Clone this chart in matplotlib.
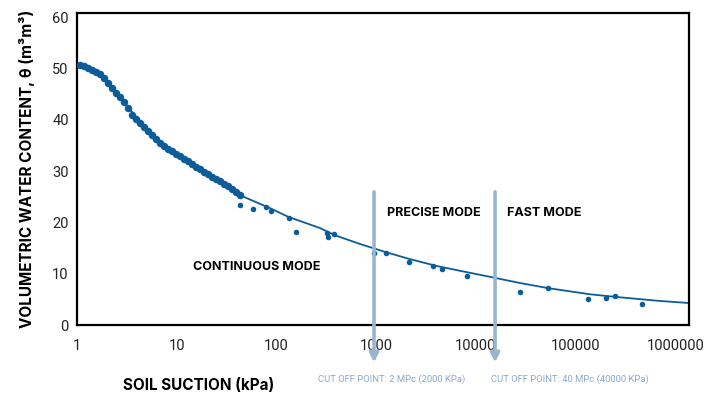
import matplotlib.pyplot as plt

plt.rcParams['font.family'] = ['Roboto', 'DejaVu Sans']

# continuous mode readings (kPa, volumetric water content %)
cont_kpa = [1.07, 1.18, 1.29, 1.41, 1.55, 1.70, 1.87, 2.05, 2.24, 2.46,
            2.70, 2.96, 3.25, 3.56, 3.91, 4.29, 4.70, 5.15, 5.65, 6.20,
            6.80, 7.46, 8.18, 8.97, 9.84, 10.8, 11.8, 13.0, 14.2, 15.6,
            17.1, 18.8, 20.6, 22.6, 24.8, 27.2, 29.8, 32.7, 35.9, 39.3, 43.1]
cont_theta = [50.7, 50.5, 50.1, 49.7, 49.3, 48.9, 48.1, 47.2, 46.2, 45.2,
              44.4, 43.5, 42.3, 40.9, 40.2, 39.4, 38.6, 37.8, 37.0, 36.3,
              35.5, 34.9, 34.3, 33.9, 33.3, 32.9, 32.4, 32.0, 31.4, 30.8,
              30.4, 29.8, 29.4, 28.8, 28.5, 28.1, 27.5, 27.1, 26.5, 25.9, 25.3]

# discrete readings
pts_kpa = [43.1, 58.2, 78.7, 88.3, 134, 157, 322, 329, 378, 953, 1257,
           2138, 3721, 4580, 8170, 27700, 53000, 133400, 202300, 249000, 464500]
pts_theta = [23.4, 22.6, 23.0, 22.2, 20.9, 18.1, 17.9, 17.2, 17.7, 14.0, 14.0,
             12.3, 11.5, 10.9, 9.6, 6.4, 7.2, 5.1, 5.3, 5.7, 4.1]

# fitted curve
fit_kpa = [1.07, 1.70, 2.70, 4.28, 6.80, 10.8, 17.1, 27.2, 43.1, 86, 131, 274,
           387, 689, 1257, 2138, 4080, 8170, 13870, 27700, 53000, 140000,
           249000, 703000, 1375000]
fit_theta = [50.7, 48.7, 44.4, 39.6, 35.7, 32.7, 30.4, 28.1, 25.3, 22.8, 21.1,
             18.9, 17.5, 15.8, 14.2, 12.9, 11.5, 10.3, 9.4, 8.2, 7.2, 6.0,
             5.5, 4.7, 4.3]

xticks = [1, 10, 100, 1000, 10000, 100000, 1000000]
yticks = [0, 10, 20, 30, 40, 50, 60]
cutoff_x = [953, 15590]
cutoff_text = ["CUT OFF POINT: 2 MPc (2000 KPa)", "CUT OFF POINT: 40 MPc (40000 KPa)"]

blue = '#0c5c99'
light = '#9ab6cf'
bold_font = ['Inter', 'DejaVu Sans']

fig = plt.figure(figsize=(7.23, 3.95), dpi=100)
ax = fig.add_axes([0.1065, 0.177, 0.8465, 0.79])

ax.plot(fit_kpa, fit_theta, color=blue, lw=1.3, zorder=2)
ax.plot(cont_kpa, cont_theta, 'o', color=blue, ms=5.4, mec='none', zorder=3)
ax.plot(pts_kpa, pts_theta, 'o', color=blue, ms=4, mec='none', zorder=3)

ax.set_xscale('log')
ax.set_xlim(1, 1.375e6)
ax.set_ylim(0, 60.8)
ax.set_xticks(xticks, [str(t) for t in xticks])
ax.minorticks_off()
ax.set_yticks(yticks)
ax.tick_params(axis='x', length=0, pad=10, labelsize=10.5, labelcolor='#222222')
ax.tick_params(axis='y', length=0, pad=6, labelsize=10.5, labelcolor='#222222')
for s in ax.spines.values():
    s.set_linewidth(1.6)
    s.set_color('black')

ax.set_ylabel('VOLUMETRIC WATER CONTENT, θ (m³m³)', fontsize=11,
              fontweight='bold', family=bold_font, labelpad=12)
ax.set_xlabel('SOIL SUCTION (kPa)', fontsize=11, fontweight='bold', family=bold_font)
ax.xaxis.set_label_coords(0.198, -0.17)

ax.text(0.293, 0.187, 'CONTINUOUS MODE', transform=ax.transAxes, fontsize=9,
        fontweight='bold', family=bold_font, ha='center', va='center')
ax.text(0.506, 0.358, 'PRECISE MODE', transform=ax.transAxes, fontsize=9,
        fontweight='bold', family=bold_font, ha='left', va='center')
ax.text(0.703, 0.358, 'FAST MODE', transform=ax.transAxes, fontsize=9,
        fontweight='bold', family=bold_font, ha='left', va='center')

trans = ax.get_xaxis_transform()
for cx in cutoff_x:
    ax.annotate('', xy=(cx, -0.12), xytext=(cx, 0.427), xycoords=trans,
                textcoords=trans, annotation_clip=False,
                arrowprops=dict(arrowstyle='-|>', color=light, lw=2.6,
                                mutation_scale=13, shrinkA=0, shrinkB=0))

fig.text(318 / 723, 1 - 379 / 395, cutoff_text[0], fontsize=6.8, color='#8aaace',
         ha='left', va='center')
fig.text(491 / 723, 1 - 379 / 395, cutoff_text[1], fontsize=6.8, color='#8aaace',
         ha='left', va='center')

fig.savefig('out.png', dpi=100)
